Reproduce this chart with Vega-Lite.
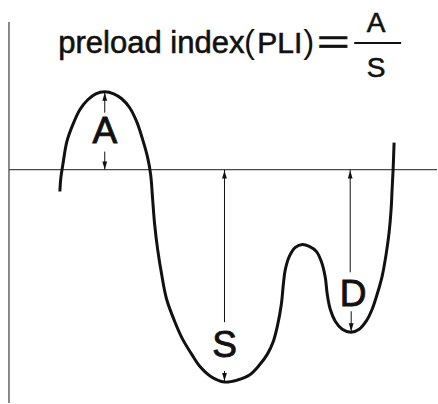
{
  "$schema": "https://vega.github.io/schema/vega-lite/v6.json",
  "width": 438,
  "height": 404,
  "padding": 0,
  "autosize": {"type": "fit", "contains": "padding"},
  "background": "white",
  "config": {"view": {"stroke": null}},
  "datasets": {
    "curve": [
      {"x": 60, "y": -22}, {"x": 61, "y": -8}, {"x": 63, "y": 5}, {"x": 67, "y": 28},
      {"x": 73, "y": 45}, {"x": 80, "y": 60}, {"x": 88, "y": 70}, {"x": 96, "y": 76},
      {"x": 105, "y": 78}, {"x": 114, "y": 76}, {"x": 122, "y": 71}, {"x": 130, "y": 62},
      {"x": 137, "y": 48}, {"x": 143, "y": 30}, {"x": 148, "y": 12}, {"x": 151, "y": -5},
      {"x": 153, "y": -30}, {"x": 155, "y": -55}, {"x": 158, "y": -80}, {"x": 162, "y": -105},
      {"x": 167, "y": -130}, {"x": 175, "y": -152}, {"x": 183, "y": -170}, {"x": 192, "y": -185},
      {"x": 200, "y": -197}, {"x": 212, "y": -208}, {"x": 225, "y": -213}, {"x": 238, "y": -211},
      {"x": 250, "y": -206}, {"x": 260, "y": -196}, {"x": 268, "y": -185}, {"x": 274, "y": -172},
      {"x": 278, "y": -157}, {"x": 282, "y": -135}, {"x": 284, "y": -115}, {"x": 286, "y": -100},
      {"x": 290, "y": -87}, {"x": 296, "y": -78}, {"x": 303, "y": -75}, {"x": 310, "y": -77},
      {"x": 317, "y": -82}, {"x": 322, "y": -92}, {"x": 326, "y": -108}, {"x": 328, "y": -125},
      {"x": 331, "y": -140}, {"x": 336, "y": -152}, {"x": 343, "y": -160}, {"x": 352, "y": -163},
      {"x": 360, "y": -160}, {"x": 367, "y": -152}, {"x": 373, "y": -140}, {"x": 378, "y": -125},
      {"x": 383, "y": -107}, {"x": 387, "y": -85}, {"x": 390, "y": -63}, {"x": 392, "y": -40},
      {"x": 393, "y": -20}, {"x": 394, "y": 0}, {"x": 395, "y": 27}
    ],
    "shafts": [
      {"x": 105, "y": 77, "y2": 57},
      {"x": 105, "y": 18, "y2": 0},
      {"x": 225, "y": 0, "y2": -153},
      {"x": 225, "y": -202, "y2": -212},
      {"x": 351, "y": 0, "y2": -103},
      {"x": 352, "y": -142, "y2": -162}
    ],
    "heads": [
      {"x": 105, "y": 77, "dir": "up"},
      {"x": 105, "y": 0, "dir": "down"},
      {"x": 225, "y": -1, "dir": "up"},
      {"x": 225, "y": -212, "dir": "down"},
      {"x": 351, "y": -1, "dir": "up"},
      {"x": 352, "y": -162, "dir": "down"}
    ],
    "labels": [
      {"x": 105, "y": 27, "text": "A"},
      {"x": 225, "y": -188, "text": "S"},
      {"x": 354, "y": -137, "text": "D"}
    ],
    "titleMain": [
      {"x": 245, "y": 117, "text": "preload index"}
    ],
    "titlePLI": [
      {"x": 280.5, "y": 117, "text": "PLI"}
    ],
    "parens": [
      {"x": 250, "y": 117, "text": "("},
      {"x": 309.5, "y": 117, "text": ")"}
    ],
    "equals": [
      {"x": 334, "y": 114, "text": "＝"}
    ],
    "fraction": [
      {"x": 377, "y": 138, "text": "A"},
      {"x": 377, "y": 93, "text": "S"}
    ]
  },
  "encoding": {
    "x": {"field": "x", "type": "quantitative", "scale": {"domain": [0, 438], "nice": false, "zero": false}, "axis": null},
    "y": {"field": "y", "type": "quantitative", "scale": {"domain": [-234, 170], "nice": false, "zero": false}, "axis": null}
  },
  "layer": [
    {
      "data": {"values": [{"x": 9, "y": 148, "y2": -234}]},
      "mark": {"type": "rule", "color": "#6e6e6e", "strokeWidth": 1.6},
      "encoding": {"y2": {"field": "y2"}}
    },
    {
      "data": {"values": [{"x": 9, "x2": 438, "y": 0}]},
      "mark": {"type": "rule", "color": "#4a4a4a", "strokeWidth": 1.3},
      "encoding": {"x2": {"field": "x2"}}
    },
    {
      "data": {"name": "shafts"},
      "mark": {"type": "rule", "color": "#111", "strokeWidth": 1},
      "encoding": {"y2": {"field": "y2"}}
    },
    {
      "data": {"name": "heads"},
      "mark": {"type": "point", "filled": true, "color": "#111", "opacity": 1, "size": 64, "strokeWidth": 0},
      "encoding": {
        "shape": {"field": "dir", "type": "nominal", "legend": null,
          "scale": {"domain": ["up", "down"], "range": ["M0,0L0.6,2L-0.6,2Z", "M0,0L0.6,-2L-0.6,-2Z"]}}
      }
    },
    {
      "data": {"name": "curve"},
      "mark": {"type": "line", "color": "#111", "strokeWidth": 3, "interpolate": "catmull-rom"},
      "encoding": {}
    },
    {
      "data": {"name": "labels"},
      "mark": {"type": "text", "font": "Liberation Sans", "fontSize": 37, "align": "center", "baseline": "alphabetic", "color": "#111", "stroke": "#111", "strokeWidth": 0.9},
      "encoding": {"text": {"field": "text"}}
    },
    {
      "data": {"name": "titleMain"},
      "mark": {"type": "text", "font": "Liberation Sans", "fontSize": 31, "align": "right", "baseline": "alphabetic", "color": "#111", "stroke": "#111", "strokeWidth": 0.6},
      "encoding": {"text": {"field": "text"}}
    },
    {
      "data": {"name": "titlePLI"},
      "mark": {"type": "text", "font": "Liberation Sans", "fontSize": 30, "align": "center", "baseline": "alphabetic", "color": "#111", "stroke": "#111", "strokeWidth": 0.6},
      "encoding": {"text": {"field": "text"}}
    },
    {
      "data": {"name": "parens"},
      "mark": {"type": "text", "font": "Liberation Sans", "fontSize": 33, "align": "center", "baseline": "alphabetic", "color": "#111"},
      "encoding": {"text": {"field": "text"}}
    },
    {
      "data": {"name": "equals"},
      "mark": {"type": "text", "font": "Noto Sans CJK JP", "fontSize": 38, "align": "center", "baseline": "alphabetic", "color": "#111", "stroke": "#111", "strokeWidth": 0.5},
      "encoding": {"text": {"field": "text"}}
    },
    {
      "data": {"values": [{"x": 355, "x2": 402, "y": 127}]},
      "mark": {"type": "rule", "color": "#111", "strokeWidth": 2},
      "encoding": {"x2": {"field": "x2"}}
    },
    {
      "data": {"name": "fraction"},
      "mark": {"type": "text", "font": "Liberation Sans", "fontSize": 28, "align": "center", "baseline": "alphabetic", "color": "#111", "stroke": "#111", "strokeWidth": 0.6},
      "encoding": {"text": {"field": "text"}}
    }
  ]
}
